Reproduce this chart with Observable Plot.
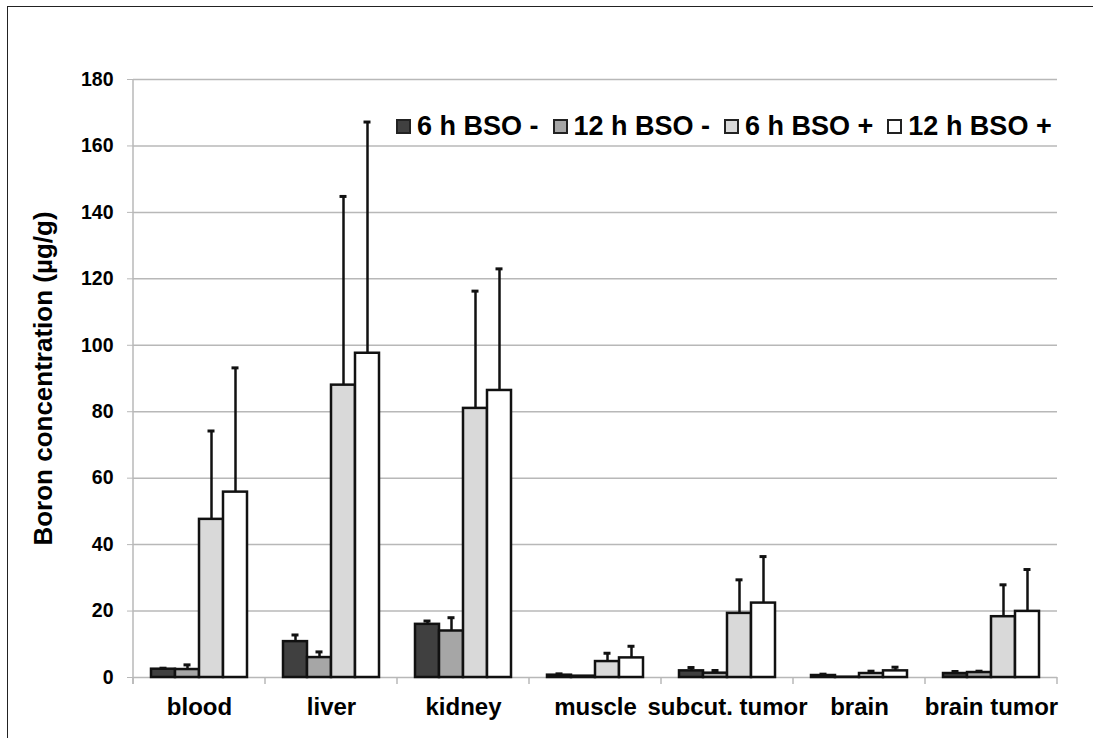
<!DOCTYPE html>
<html>
<head>
<meta charset="utf-8">
<script src="https://cdn.jsdelivr.net/npm/d3@7"></script>
<script src="https://cdn.jsdelivr.net/npm/@observablehq/plot@0.6"></script>
<style>
  html, body { margin: 0; padding: 0; background: #fff; }
  #wrap { position: relative; width: 1093px; height: 738px; overflow: hidden; font-family: "Liberation Sans", Arial, sans-serif; }
  #frame { position: absolute; left: 7px; top: 6px; right: -10px; bottom: -10px; border-left: 1.5px solid #222; border-top: 1.5px solid #222; }
  #legend { position: absolute; left: 396px; top: 110px; display: flex; align-items: center; font-weight: bold; font-size: 27px; line-height: 32px; color: #000; white-space: nowrap; }
  .item { display: flex; align-items: center; margin-right: 14px; }
  .sw { width: 15px; height: 15px; box-sizing: border-box; border: 2px solid #222; margin-right: 6px; }
  #chart { position: absolute; left: 0; top: 0; }
</style>
</head>
<body>
<div id="wrap">
  <div id="frame"></div>
  <div id="chart"></div>
  <div id="legend"></div>
</div>
<script>
const categories = ["blood", "liver", "kidney", "muscle", "subcut. tumor", "brain", "brain tumor"];
const series = ["6 h BSO -", "12 h BSO -", "6 h BSO +", "12 h BSO +"];
const colors = ["#404040", "#a6a6a6", "#d9d9d9", "#ffffff"];
const yTicks = [0, 20, 40, 60, 80, 100, 120, 140, 160, 180];

const v6minus  = [2.5, 10.8, 16.0, 0.7, 2.0, 0.6, 1.2];
const v12minus = [2.4, 6.0, 14.0, 0.4, 1.3, 0.1, 1.5];
const v6plus   = [47.6, 88.0, 81.0, 4.8, 19.3, 1.2, 18.3];
const v12plus  = [55.8, 97.6, 86.4, 5.9, 22.4, 2.0, 19.9];

const e6minus  = [0.3, 2.0, 1.0, 0.4, 1.0, 0.4, 0.6];
const e12minus = [1.4, 1.7, 4.0, 0, 0.8, 0, 0.4];
const e6plus   = [26.6, 56.8, 35.3, 2.5, 10.1, 0.7, 9.6];
const e12plus  = [37.4, 69.6, 36.6, 3.5, 14.0, 1.1, 12.6];

const valueSets = [v6minus, v12minus, v6plus, v12plus];
const errSets = [e6minus, e12minus, e6plus, e12plus];

const rows = [];
series.forEach((s, j) => {
  categories.forEach((c, i) => {
    rows.push({cat: c, series: s, value: valueSets[j][i], err: errSets[j][i]});
  });
});
const errRows = rows.filter(d => d.err > 0);

const font = "'Liberation Sans', Arial, sans-serif";
const gray = "#b8b8b8";

const chart = Plot.plot({
  width: 1093,
  height: 738,
  marginLeft: 130,
  marginRight: 33,
  marginTop: 79,
  marginBottom: 61,
  style: {fontFamily: font, background: "transparent", color: "#000", overflow: "visible"},
  fx: {domain: categories, padding: 0, label: null},
  x: {domain: series, paddingInner: 0, paddingOuter: 0.71, axis: null},
  y: {domain: [0, 180], label: null},
  color: {domain: series, range: colors},
  marks: [
    Plot.gridY(yTicks, {stroke: gray, strokeOpacity: 1, strokeWidth: 1.5}),
    Plot.axisY(yTicks, {tickSize: 6, tickPadding: 14, fontSize: 19.5, fontWeight: "bold", stroke: gray, strokeOpacity: 1, fill: "#000", label: null}),
    Plot.axisY([], {tickSize: 0, label: "Boron concentration (µg/g)", labelAnchor: "center", labelArrow: "none", labelOffset: 100, fontSize: 26, fontWeight: "bold", fill: "#000"}),
    Plot.axisFx({anchor: "bottom", tickSize: 0, tickPadding: 20, fontSize: 24, fontWeight: "bold", fill: "#000", label: null}),
    Plot.barY(rows, {fx: "cat", x: "series", y: "value", fill: "series", stroke: "#111", strokeWidth: 2.5}),
    Plot.ruleX(errRows, {fx: "cat", x: "series", y1: "value", y2: d => d.value + d.err, stroke: "#111", strokeWidth: 2.5}),
    Plot.tickY(errRows, {fx: "cat", x: "series", y: d => d.value + d.err, stroke: "#111", strokeWidth: 3, insetLeft: 8.5, insetRight: 8.5})
  ]
});

// category boundary ticks and the vertical axis line, placed through the scales
const fx = chart.scale("fx");
const ys = chart.scale("y");
const svg = d3.select(chart);
const y0 = ys.apply(0);
const yTop = ys.apply(180);
const bounds = categories.map(c => fx.apply(c)).concat([fx.apply(categories[categories.length - 1]) + fx.bandwidth]);
const g = svg.append("g").attr("stroke", gray).attr("stroke-width", 1.5);
g.append("line").attr("x1", bounds[0]).attr("x2", bounds[0]).attr("y1", yTop).attr("y2", y0 + 7);
bounds.forEach(x => {
  g.append("line").attr("x1", x).attr("x2", x).attr("y1", y0).attr("y2", y0 + 7);
});
// keep bars above the added axis line
svg.selectAll("g[aria-label='bar'], g[aria-label='rule'], g[aria-label='tick']").raise();

document.getElementById("chart").appendChild(chart);

// legend
const legend = d3.select("#legend");
series.forEach((s, j) => {
  const it = legend.append("div").attr("class", "item");
  it.append("div").attr("class", "sw").style("background", colors[j]);
  it.append("span").text(s);
});
</script>
</body>
</html>
